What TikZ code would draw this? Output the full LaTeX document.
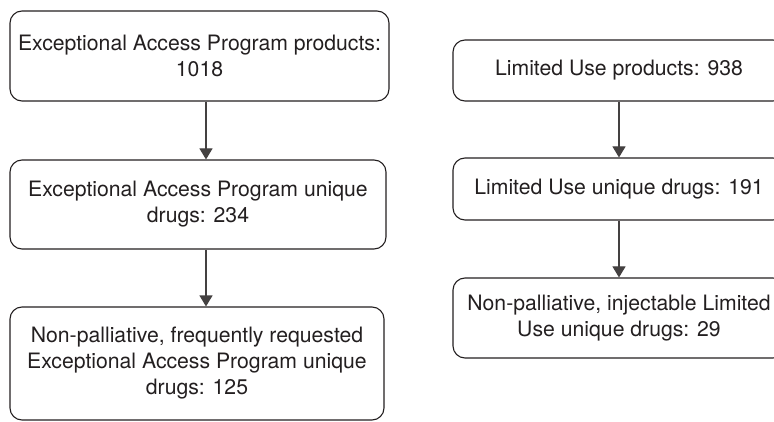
\documentclass[tikz,border=0pt]{standalone}
\usepackage{fontspec}
\setmainfont{TeX Gyre Heros}
\usepackage{tikz}
\usetikzlibrary{arrows.meta}
\definecolor{ink}{HTML}{231F20}

\begin{document}
\begin{tikzpicture}[
        x=1pt, y=-1pt,
        box/.style={rectangle, rounded corners=12pt, draw=ink, line width=1.1pt, align=center,
            inner sep=0pt, font=\fontsize{21.2}{26}\selectfont, text=ink},
        arr/.style={-{Triangle[length=11pt, width=13pt]}, line width=1.1pt, draw=ink!85}
    ]
    \useasboundingbox (0,0) rectangle (774,422);
    \clip (0,0) rectangle (774,422);

    % ---- EXCEPTIONAL ACCESS PROGRAM ----
    \node[box, minimum width=379pt, minimum height=90pt] (eapprod) at (199.5,56)
        {Exceptional Access Program products:\\1018};
    \node[box, minimum width=376pt, minimum height=89pt] (eapdrug) at (198,204.5)
        {Exceptional Access Program unique\\drugs: 234};
    \node[box, minimum width=374pt, minimum height=113pt] (eapsel) at (197,363.5)
        {Non-palliative, frequently requested\\Exceptional Access Program unique\\drugs: 125};

    \draw[arr] (eapprod.south -| 206,0) -- (eapdrug.north -| 206,0);
    \draw[arr] (eapdrug.south -| 206,0) -- (eapsel.north -| 206,0);

    % ---- LIMITED USE ----
    \node[box, minimum width=332pt, minimum height=61pt] (luprod) at (619,70.5)
        {Limited Use products: 938};
    \node[box, minimum width=332pt, minimum height=62pt] (ludrug) at (619,189)
        {Limited Use unique drugs: 191};
    \node[box, minimum width=332pt, minimum height=80pt] (lusel) at (619,318)
        {Non-palliative, injectable Limited\\Use unique drugs: 29};

    \draw[arr] (luprod) -- (ludrug);
    \draw[arr] (ludrug) -- (lusel);

\end{tikzpicture}
\end{document}
